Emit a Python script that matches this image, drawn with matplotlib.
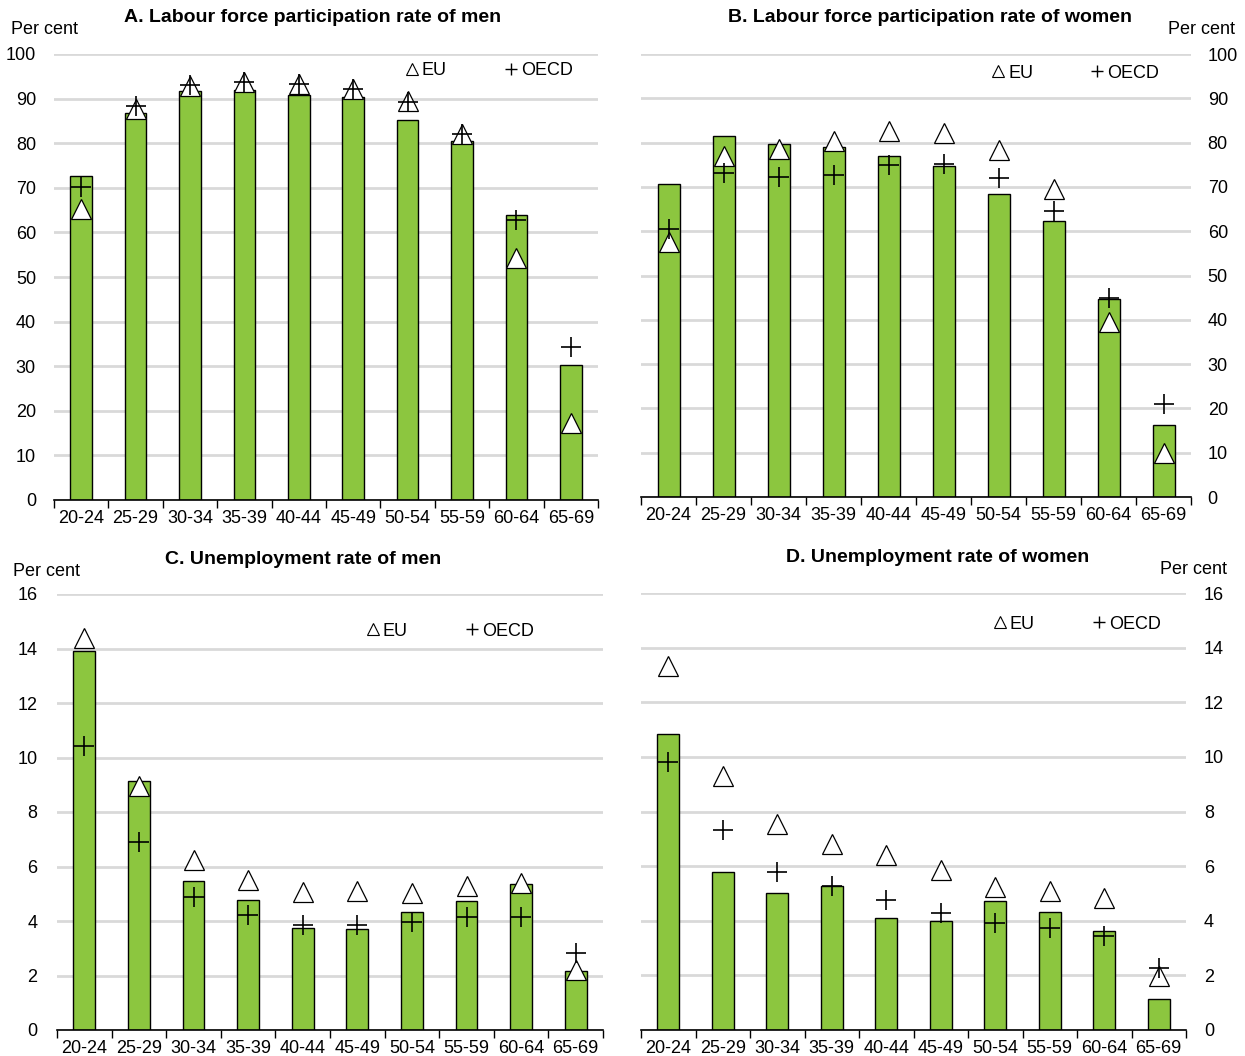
import matplotlib
matplotlib.use("Agg")
import matplotlib.pyplot as plt
from matplotlib.lines import Line2D
import numpy as np

plt.rcParams['font.family'] = ['Liberation Sans', 'DejaVu Sans']

age_groups = ["20-24", "25-29", "30-34", "35-39", "40-44", "45-49", "50-54", "55-59", "60-64", "65-69"]

# A. Labour force participation rate of men
lfp_men_country = [72.6, 86.7, 91.6, 91.9, 90.8, 90.3, 85.1, 80.4, 63.8, 30.3]
lfp_men_eu = [65.3, 87.7, 92.8, 93.7, 93.3, 92.2, 89.5, 82.1, 54.3, 17.2]
lfp_men_oecd = [70.1, 88.4, 93.0, 93.7, 93.3, 92.2, 89.2, 82.0, 62.7, 34.2]

# B. Labour force participation rate of women
lfp_women_country = [70.7, 81.4, 79.7, 79.1, 76.9, 74.8, 68.5, 62.3, 44.8, 16.2]
lfp_women_eu = [57.5, 77.0, 78.5, 80.4, 82.7, 82.1, 78.3, 69.5, 39.6, 10.0]
lfp_women_oecd = [60.4, 73.1, 72.2, 72.7, 75.0, 75.1, 71.9, 64.5, 45.0, 21.1]

# C. Unemployment rate of men
ur_men_country = [13.9, 9.13, 5.48, 4.78, 3.73, 3.70, 4.33, 4.74, 5.36, 2.15]
ur_men_eu = [14.4, 8.94, 6.24, 5.50, 5.06, 5.09, 5.04, 5.30, 5.40, 2.19]
ur_men_oecd = [10.42, 6.89, 4.89, 4.23, 3.86, 3.86, 3.97, 4.16, 4.13, 2.81]

# D. Unemployment rate of women
ur_women_country = [10.83, 5.80, 5.03, 5.29, 4.10, 4.00, 4.71, 4.32, 3.61, 1.14]
ur_women_eu = [13.34, 9.30, 7.55, 6.82, 6.40, 5.84, 5.25, 5.09, 4.82, 1.98]
ur_women_oecd = [9.83, 7.31, 5.79, 5.26, 4.76, 4.27, 3.90, 3.73, 3.43, 2.26]

titles = ["A. Labour force participation rate of men",
          "B. Labour force participation rate of women",
          "C. Unemployment rate of men",
          "D. Unemployment rate of women"]

W, H = 1245, 1056
fig = plt.figure(figsize=(W / 100, H / 100), dpi=100)

def frac(l, r, t, b):
    return [l / W, 1 - b / H, (r - l) / W, (b - t) / H]

panels = [
    dict(rect=frac(54, 598, 54, 500), data=(lfp_men_country, lfp_men_eu, lfp_men_oecd),
         ylim=100, step=10, side='left', title=titles[0], title_x=313, title_y=18,
         pc=(11, 30), leg=(0.80, 0.962), pad=13),
    dict(rect=frac(641, 1191, 54, 497), data=(lfp_women_country, lfp_women_eu, lfp_women_oecd),
         ylim=100, step=10, side='right', title=titles[1], title_x=930, title_y=18,
         pc=(1235, 30), leg=(0.79, 0.957), pad=12),
    dict(rect=frac(57, 603, 594, 1030), data=(ur_men_country, ur_men_eu, ur_men_oecd),
         ylim=16, step=2, side='left', title=titles[2], title_x=303, title_y=559,
         pc=(13, 571), leg=(0.72, 0.915), pad=14),
    dict(rect=frac(641, 1186, 593, 1030), data=(ur_women_country, ur_women_eu, ur_women_oecd),
         ylim=16, step=2, side='right', title=titles[3], title_x=938, title_y=557,
         pc=(1227, 570), leg=(0.80, 0.929), pad=13),
]

green = "#8CC63F"
x = np.arange(len(age_groups))
FS = 13

for p in panels:
    ax = fig.add_axes(p['rect'])
    country, eu, oecd = p['data']
    ax.set_axisbelow(True)
    ax.bar(x, country, width=0.4, color=green, edgecolor="black", linewidth=1.0, zorder=2)
    ax.plot(x, eu, linestyle='none', marker='^', markersize=14.5, markerfacecolor='white',
            markeredgecolor='black', markeredgewidth=0.9, zorder=3)
    ax.plot(x, oecd, linestyle='none', marker='+', markersize=15, color='black',
            markeredgewidth=1.2, zorder=4)
    ax.set_xlim(-0.5, len(age_groups) - 0.5)
    ax.set_ylim(0, p['ylim'])
    ax.set_yticks(np.arange(0, p['ylim'] + 0.01, p['step']))
    ax.yaxis.grid(True, color="#d9d9d9", linewidth=2)
    ax.xaxis.grid(False)
    for s in ['top', 'left', 'right']:
        ax.spines[s].set_visible(False)
    ax.spines['bottom'].set_color('black')
    ax.spines['bottom'].set_linewidth(1.2)
    ax.set_xticks(x)
    ax.set_xticklabels(age_groups, fontsize=FS)
    ax.tick_params(axis='x', which='major', length=0, pad=7)
    ax.set_xticks(np.arange(-0.5, len(age_groups)), minor=True)
    ax.tick_params(axis='x', which='minor', length=6, width=1, color='black', direction='out')
    if p['side'] == 'right':
        ax.yaxis.tick_right()
        ha = 'right'
    else:
        ha = 'left'
    ax.tick_params(axis='y', length=0, labelsize=FS, pad=p['pad'])
    fig.text(p['title_x'] / W, 1 - p['title_y'] / H, p['title'], ha='center', va='center',
             fontsize=14, fontweight='bold')
    fig.text(p['pc'][0] / W, 1 - p['pc'][1] / H, "Per cent", ha=ha, va='center', fontsize=FS)
    handles = [Line2D([], [], linestyle='none', marker='^', markersize=8, markerfacecolor='white',
                      markeredgecolor='black', markeredgewidth=0.8),
               Line2D([], [], linestyle='none', marker='+', markersize=9, color='black',
                      markeredgewidth=1.0)]
    ax.legend(handles, ["EU", "OECD"], ncol=2, frameon=False, loc='center',
              bbox_to_anchor=p['leg'], fontsize=FS, handlelength=0.7, handletextpad=0.2,
              columnspacing=3.2)

fig.savefig("out.png", dpi=100)
